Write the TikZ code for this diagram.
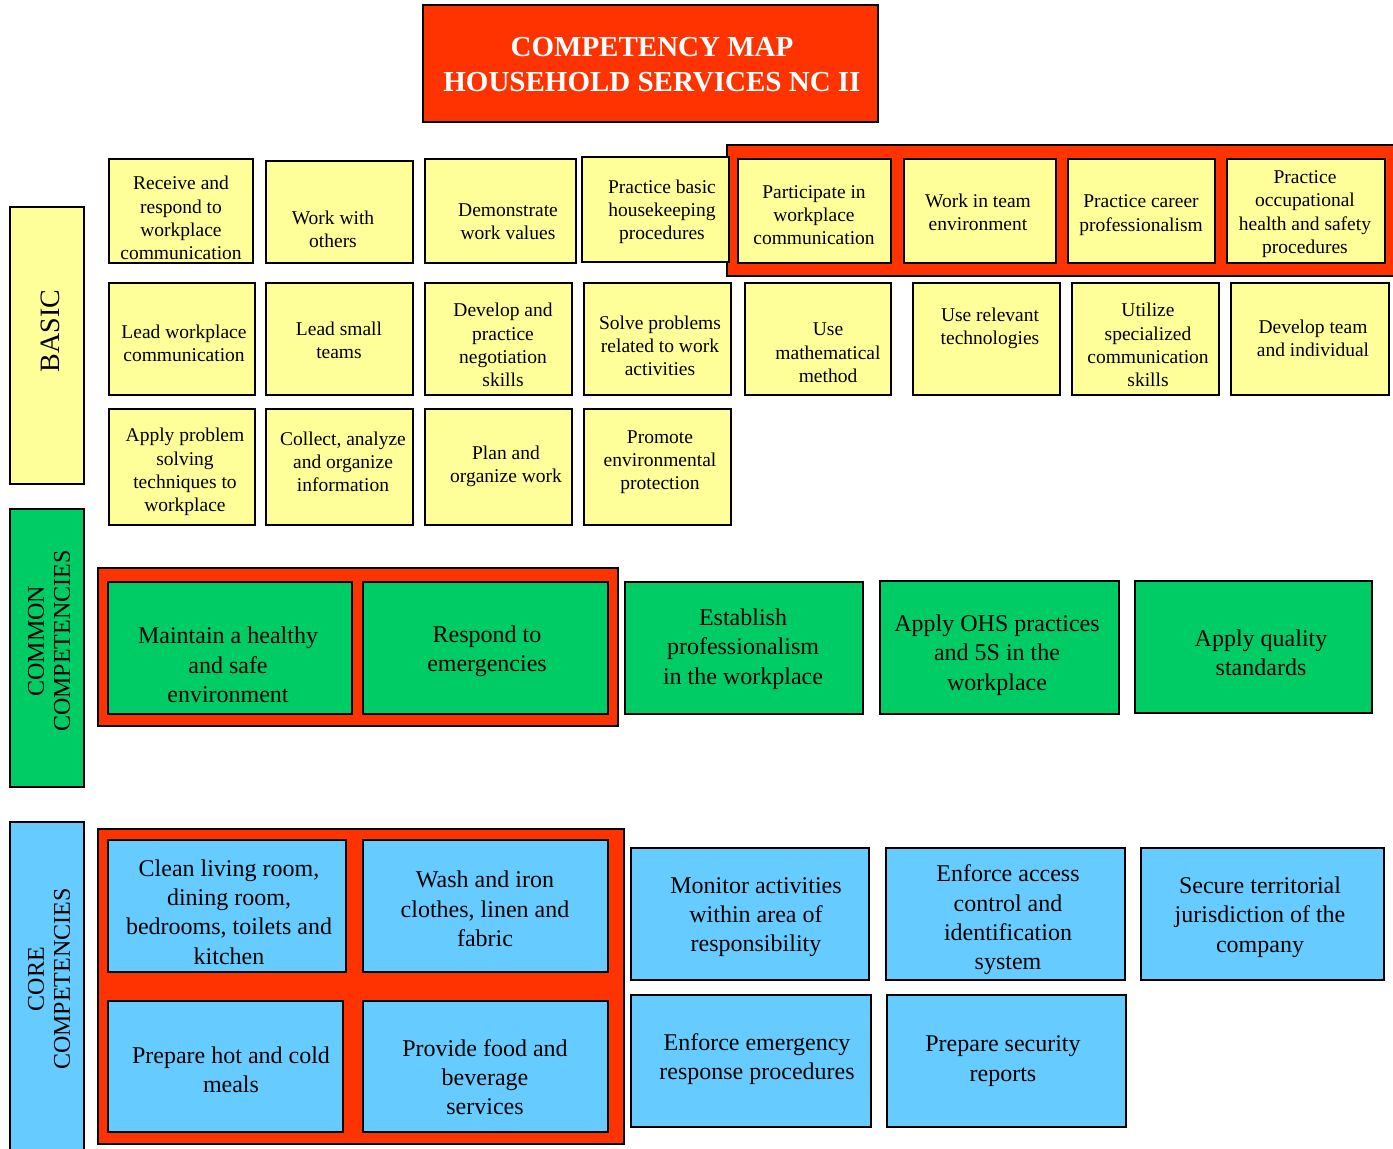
\documentclass[tikz,border=0pt]{standalone}
\usepackage{fontspec}
\setmainfont{Liberation Serif}
\usetikzlibrary{fit}
\definecolor{yel}{HTML}{FFFF99}
\definecolor{grn}{HTML}{00CC66}
\definecolor{blu}{HTML}{66CCFF}
\definecolor{rd}{HTML}{FF3300}
\tikzset{
  frame/.style={draw=black, fill=rd, line width=1.6pt, inner sep=0pt},
  ybox/.style={draw=black, fill=yel, line width=1.6pt, inner sep=0pt},
  gbox/.style={draw=black, fill=grn, line width=1.6pt, inner sep=0pt},
  bbox/.style={draw=black, fill=blu, line width=1.6pt, inner sep=0pt},
  ytxt/.style={align=center, inner sep=0pt, font=\fontsize{19.5}{23.3}\selectfont},
  gtxt/.style={align=center, inner sep=0pt, font=\fontsize{24}{29.3}\selectfont},
  btxt/.style={gtxt},
  sidetxt/.style={align=center, inner sep=0pt, rotate=90},
}
% name, style, x1, y1, x2, y2, text x, text y, text
\newcommand\cbx[9]{%
  \node[#2box, fit={(#3,#4) (#5,#6)}] (#1) {};
  \node[#2txt] (#1t) at (#7,#8) {#9};}
\begin{document}
\begin{tikzpicture}[x=1pt,y=-1pt]
\useasboundingbox (0,0) rectangle (1393,1149);
\clip (0,0) rectangle (1393,1149);
% title
\node[frame, fit={(423,5) (878,122)}] (title) {};
\node[align=center, inner sep=0pt, text=white, font=\fontsize{29}{35}\bfseries] (titlet) at (652,65) {COMPETENCY MAP\\HOUSEHOLD SERVICES NC II};
% side labels
\node[ybox, fit={(10,207) (84,484)}] (basic) {};
\node[sidetxt, font=\fontsize{28}{32}\selectfont] (basict) at (50,331) {BASIC};
\node[gbox, fit={(10,509) (84,787)}] (common) {};
\node[sidetxt, font=\fontsize{24}{26}\selectfont] (commont) at (49,641) {COMMON\\COMPETENCIES};
\node[bbox, fit={(10,822) (84,1160)}] (core) {};
\node[sidetxt, font=\fontsize{24}{26}\selectfont] (coret) at (49,979) {CORE\\COMPETENCIES};
% basic row 1
\node[frame, fit={(727,145) (1400,276)}] (fr1) {};
\cbx{a1}{y}{109}{159}{253}{263}{181}{218}{Receive and\\respond to\\workplace\\communication}
\cbx{a2}{y}{266}{161}{413}{263}{333}{229}{Work with\\others}
\cbx{a3}{y}{425}{159}{576}{263}{508}{222}{Demonstrate\\work values}
\cbx{a4}{y}{582}{157}{729}{262}{662}{212}{Practice basic\\housekeeping\\procedures}
\cbx{a5}{y}{738}{159}{891}{263}{814}{215}{Participate in\\workplace\\communication}
\cbx{a6}{y}{904}{159}{1056}{263}{978}{212}{Work in team\\environment}
\cbx{a7}{y}{1068}{159}{1215}{263}{1141}{215}{Practice career\\professionalism}
\cbx{a8}{y}{1227}{159}{1385}{263}{1305}{214}{Practice\\occupational\\health and safety\\procedures}
% basic row 2
\cbx{b1}{y}{109}{283}{255}{395}{184}{343}{Lead workplace\\communication}
\cbx{b2}{y}{266}{283}{413}{395}{339}{340}{Lead small\\teams}
\cbx{b3}{y}{425}{283}{572}{395}{503}{345}{Develop and\\practice\\negotiation\\skills}
\cbx{b4}{y}{584}{283}{731}{395}{660}{346}{Solve problems\\related to work\\activities}
\cbx{b5}{y}{745}{283}{891}{395}{828}{353}{Use\\mathematical\\method}
\cbx{b6}{y}{913}{283}{1060}{395}{990}{328}{Use relevant\\technologies}
\cbx{b7}{y}{1072}{283}{1219}{395}{1148}{345}{Utilize\\specialized\\communication\\skills}
\cbx{b8}{y}{1231}{283}{1389}{395}{1313}{338}{Develop team\\and individual}
% basic row 3
\cbx{c1}{y}{109}{409}{255}{525}{185}{472}{Apply problem\\solving\\techniques to\\workplace}
\cbx{c2}{y}{266}{409}{413}{525}{343}{462}{Collect, analyze\\and organize\\information}
\cbx{c3}{y}{425}{409}{572}{525}{506}{466}{Plan and\\organize work}
\cbx{c4}{y}{584}{409}{731}{525}{660}{462}{Promote\\environmental\\protection}
% common
\node[frame, fit={(98,568) (618,726)}] (fr2) {};
\cbx{d1}{g}{108}{582}{352}{714}{228}{665}{Maintain a healthy\\and safe\\environment}
\cbx{d2}{g}{363}{582}{608}{714}{487}{651}{Respond to\\emergencies}
\cbx{d3}{g}{625}{582}{863}{714}{743}{649}{Establish\\professionalism\\in the workplace}
\cbx{d4}{g}{880}{581}{1119}{714}{997}{655}{Apply OHS practices\\and 5S in the\\workplace}
\cbx{d5}{g}{1135}{581}{1372}{713}{1261}{653}{Apply quality\\standards}
% core
\node[frame, fit={(98,829) (624,1144)}] (fr3) {};
\cbx{e1}{b}{108}{840}{346}{972}{229}{912}{Clean living room,\\dining room,\\bedrooms, toilets and\\kitchen}
\cbx{e2}{b}{363}{840}{608}{972}{485}{909}{Wash and iron\\clothes, linen and\\fabric}
\cbx{e3}{b}{108}{1001}{343}{1132}{231}{1070}{Prepare hot and cold\\meals}
\cbx{e4}{b}{363}{1001}{608}{1132}{485}{1077}{Provide food and\\beverage\\services}
\cbx{f1}{b}{631}{848}{869}{980}{756}{917}{Monitor activities\\within area of\\responsibility}
\cbx{f2}{b}{886}{848}{1125}{980}{1008}{920}{Enforce access\\control and\\identification\\system}
\cbx{f3}{b}{1141}{848}{1384}{980}{1260}{917}{Secure territorial\\jurisdiction of the\\company}
\cbx{f4}{b}{631}{995}{871}{1127}{757}{1059}{Enforce emergency\\response procedures}
\cbx{f5}{b}{887}{995}{1126}{1127}{1003}{1061}{Prepare security\\reports}
\end{tikzpicture}
\end{document}
